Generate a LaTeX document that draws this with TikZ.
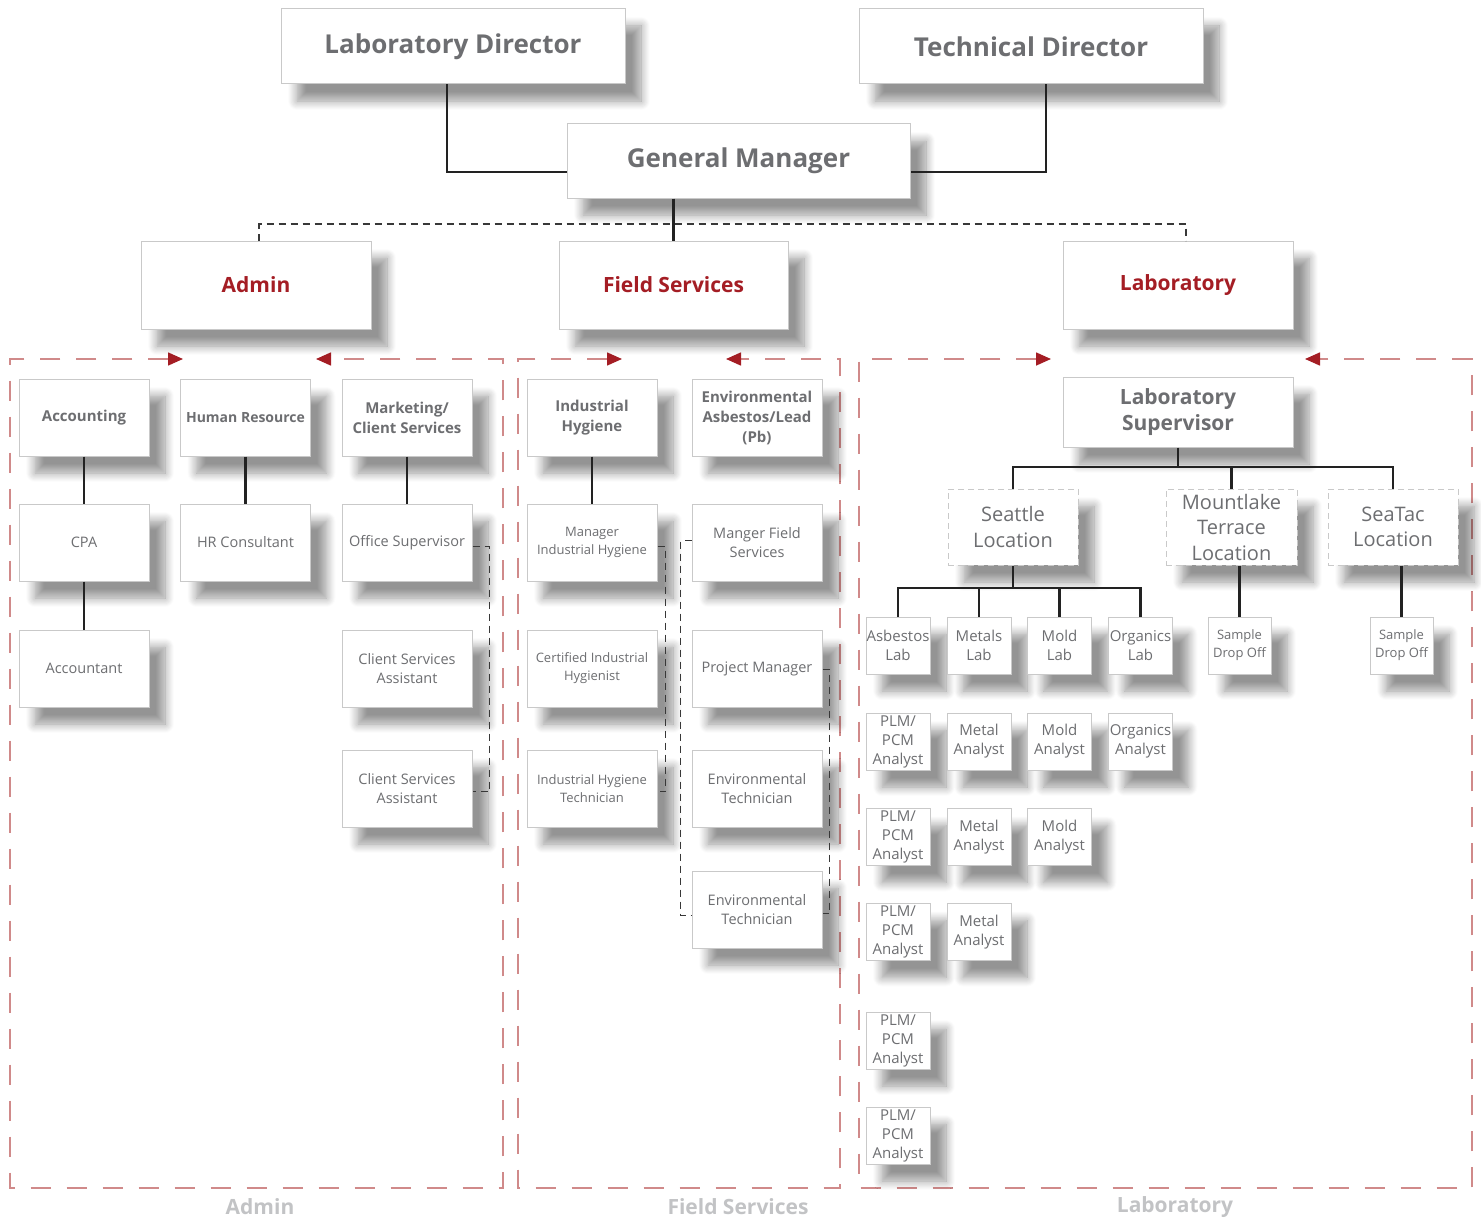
\documentclass[tikz,border=0pt]{standalone}
\usepackage{fontspec}
\setmainfont{Open Sans}
\usetikzlibrary{arrows.meta,shadows.blur}
\definecolor{txt}{HTML}{6D6E71}
\definecolor{hred}{HTML}{A41D24}
\definecolor{fred}{HTML}{D08A8A}
\definecolor{bord}{HTML}{C9C9C9}
\definecolor{lbl}{HTML}{C2C3C5}
\definecolor{conn}{HTML}{222222}
\tikzset{
  sh/.style={blur shadow={shadow xshift=16pt,shadow yshift=-17pt,shadow blur radius=9pt,shadow opacity=42,shadow blur steps=10}},
  box/.style={draw=bord,line width=1pt,fill=white,sh,inner sep=0pt,align=center,text=txt},
  topbox/.style={box,minimum width=344pt,minimum height=75pt,font=\fontsize{26}{30}\selectfont\bfseries},
  hbox/.style={box,minimum width=230pt,minimum height=88pt,text=hred,font=\fontsize{21}{26}\selectfont\bfseries},
  gbold/.style={box,minimum width=130pt,minimum height=77pt,font=\fontsize{15}{20}\selectfont\bfseries},
  greg/.style={box,minimum width=130pt,minimum height=77pt,font=\fontsize{14.5}{19}\selectfont},
  gsmall/.style={box,minimum width=130pt,minimum height=77pt,font=\fontsize{13}{18}\selectfont},
  lsupbox/.style={box,minimum width=230pt,minimum height=70pt,font=\fontsize{21}{26}\selectfont\bfseries},
  locbox/.style={box,draw=bord,dash pattern=on 6pt off 4pt,minimum width=130pt,minimum height=76pt,font=\fontsize{20}{25.5}\selectfont},
  lbox/.style={box,minimum width=64pt,minimum height=57pt,font=\fontsize{15}{19}\selectfont},
  sdbox/.style={box,minimum width=63pt,minimum height=57pt,font=\fontsize{13}{18}\selectfont},
  botlbl/.style={text=lbl,font=\fontsize{21}{26}\selectfont\bfseries,inner sep=0pt},
  conn/.style={draw=conn,line width=2.2pt},
  dconn/.style={draw=conn!90,line width=1.8pt,dash pattern=on 7pt off 5pt},
  frame/.style={draw=fred,line width=1.6pt,dash pattern=on 20pt off 16pt,
    arrows={Triangle[length=15pt,width=13pt,color=hred,fill=hred]-Triangle[length=15pt,width=13pt,color=hred,fill=hred]}},
}
\begin{document}
\begin{tikzpicture}[x=1pt,y=-1pt]
\useasboundingbox (0,0) rectangle (1481,1220);
% group frames
\draw[frame] (183,359) -- (10,359) -- (10,1188) -- (503,1188) -- (503,359) -- (316,359);
\draw[frame] (622,359) -- (518,359) -- (518,1188) -- (840,1188) -- (840,359) -- (726,359);
\draw[frame] (1051,359) -- (859,359) -- (859,1188) -- (1472,1188) -- (1472,359) -- (1305,359);
% top
\node[topbox] (ld) at (453,46.5) {Laboratory Director};
\node[topbox] (td) at (1031,46.5) {Technical Director};
\node[topbox,minimum width=343pt,minimum height=74pt] (gm) at (738.5,161) {General Manager};
% headers
\node[hbox] (admin) at (256,285) {Admin};
\node[hbox,minimum width=229pt] (fs) at (673.5,285) {Field Services};
\node[hbox] (lab) at (1178,285) {Laboratory};
% admin group
\node[gbold] (acc) at (84,417.5) {Accounting};
\node[gbold,font=\fontsize{14}{19}\selectfont\bfseries] (hr) at (245.5,417.5) {Human Resource};
\node[gbold] (mkt) at (407,417.5) {Marketing/\\Client Services};
\node[greg] (cpa) at (84,542.5) {CPA};
\node[greg] (hrc) at (245.5,542.5) {HR Consultant};
\node[greg] (osup) at (407,542.5) {Office Supervisor};
\node[greg] (acct) at (84,668.5) {Accountant};
\node[greg] (csa1) at (407,668.5) {Client Services\\Assistant};
\node[greg] (csa2) at (407,788.5) {Client Services\\Assistant};
% field services group
\node[gbold] (ih) at (592,417.5) {Industrial\\Hygiene};
\node[gbold] (env) at (757,417.5) {Environmental\\Asbestos/Lead\\(Pb)};
\node[gsmall] (mih) at (592,542.5) {Manager\\Industrial Hygiene};
\node[greg] (mfs) at (757,542.5) {Manger Field\\Services};
\node[gsmall] (cih) at (592,668.5) {Certified Industrial\\Hygienist};
\node[greg] (pm) at (757,668.5) {Project Manager};
\node[gsmall] (iht) at (592,788.5) {Industrial Hygiene\\Technician};
\node[greg] (et1) at (757,788.5) {Environmental\\Technician};
\node[greg] (et2) at (757,909.5) {Environmental\\Technician};
% laboratory group
\node[lsupbox] (lsup) at (1178,412) {Laboratory\\Supervisor};
\node[locbox] (sea) at (1013,527) {Seattle\\Location};
\node[locbox,minimum width=131pt] (mlt) at (1231.5,527) {Mountlake\\Terrace\\Location};
\node[locbox] (stc) at (1393,527) {SeaTac\\Location};
\node[lbox] (asb) at (898,645.5) {Asbestos\\Lab};
\node[lbox] (met) at (979,645.5) {Metals\\Lab};
\node[lbox] (mold) at (1059.5,645.5) {Mold\\Lab};
\node[lbox] (org) at (1140.5,645.5) {Organics\\Lab};
\node[sdbox] (sdo1) at (1239.5,645.5) {Sample\\Drop Off};
\node[sdbox] (sdo2) at (1401.5,645.5) {Sample\\Drop Off};
\node[lbox] (p1) at (898,741.5) {PLM/\\PCM\\Analyst};
\node[lbox] (ma1) at (979,741.5) {Metal\\Analyst};
\node[lbox] (mo1) at (1059.5,741.5) {Mold\\Analyst};
\node[lbox] (oa1) at (1140.5,741.5) {Organics\\Analyst};
\node[lbox] (p2) at (898,837) {PLM/\\PCM\\Analyst};
\node[lbox] (ma2) at (979,837) {Metal\\Analyst};
\node[lbox] (mo2) at (1059.5,837) {Mold\\Analyst};
\node[lbox] (p3) at (898,932) {PLM/\\PCM\\Analyst};
\node[lbox] (ma3) at (979,932) {Metal\\Analyst};
\node[lbox] (p4) at (898,1040.5) {PLM/\\PCM\\Analyst};
\node[lbox] (p5) at (898,1135.5) {PLM/\\PCM\\Analyst};
% bottom labels
\node[botlbl] (bl1) at (260,1207) {Admin};
\node[botlbl] (bl2) at (738,1207) {Field Services};
\node[botlbl] (bl3) at (1175,1207) {Laboratory};
% connectors top
\draw[conn] ([xshift=-6pt]ld.south) |- ([yshift=-11pt]gm.west);
\draw[conn] ([xshift=15pt]td.south) |- ([yshift=-11pt]gm.east);
\draw[conn] (gm.south -| fs.north) -- (fs.north);
\coordinate (bus) at (673.5,224);
\draw[dconn] ([xshift=3pt]admin.north) |- (bus) -| ([xshift=8pt]lab.north);
% admin connectors
\draw[conn] (acc.south) -- (cpa.north);
\draw[conn] (cpa.south) -- (acct.north);
\draw[conn] (hr.south) -- (hrc.north);
\draw[conn] (mkt.south) -- (osup.north);
\draw[dconn] ([yshift=-4pt]osup.east) -- ++(17,0) |- ([yshift=-3pt]csa2.east);
% field connectors
\draw[conn] (ih.south) -- (mih.north);
\draw[dconn] ([yshift=-4pt]mih.east) -- ++(8,0) |- ([yshift=-3pt]iht.east);
\draw[dconn] ([yshift=2pt]mfs.west) -- ++(-11,0) |- ([yshift=-6pt]et2.west);
\draw[dconn] ([yshift=-1pt]pm.east) -- ++(7,0) |- ([yshift=-4pt]et2.east);
% lab connectors
\coordinate (lbus) at (1178,467);
\draw[conn] (lsup.south) -- (lbus);
\draw[conn] (sea.north) |- (lbus) -| (stc.north);
\draw[conn] (lbus -| mlt.north) -- (mlt.north);
\coordinate (sbus) at (1013,588);
\draw[conn] (sea.south) -- (sbus);
\draw[conn] (asb.north) |- (sbus) -| (org.north);
\draw[conn] (sbus -| met.north) -- (met.north);
\draw[conn] (sbus -| mold.north) -- (mold.north);
\draw[conn] (mlt.south -| sdo1.north) -- (sdo1.north);
\draw[conn] (stc.south -| sdo2.north) -- (sdo2.north);
\end{tikzpicture}
\end{document}
